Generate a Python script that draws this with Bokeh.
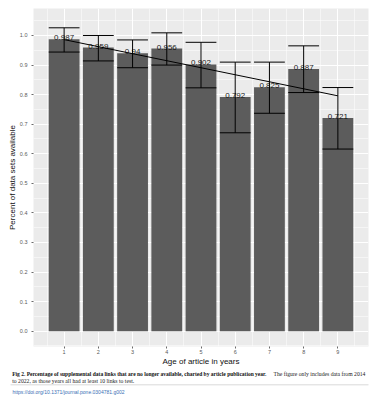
from bokeh.plotting import figure
from bokeh.layouts import column, row
from bokeh.models import FixedTicker, Range1d, ColumnDataSource
from bokeh.embed import file_html
from bokeh.resources import INLINE
from bokeh.core.properties import value

# ---------------- data ----------------
ages = [1, 2, 3, 4, 5, 6, 7, 8, 9]
share_available = [0.987, 0.959, 0.94, 0.956, 0.902, 0.792, 0.825, 0.887, 0.721]
value_labels = ["0.987", "0.959", "0.94", "0.956", "0.902", "0.792", "0.825", "0.887", "0.721"]
ci_lower = [0.944, 0.914, 0.891, 0.900, 0.823, 0.671, 0.737, 0.807, 0.616]
ci_upper = [1.026, 1.000, 0.985, 1.009, 0.977, 0.910, 0.910, 0.965, 0.824]
trend_ages = [1, 9]
trend_values = [0.986, 0.796]
y_ticks = [0.0, 0.1, 0.2, 0.3, 0.4, 0.5, 0.6, 0.7, 0.8, 0.9, 1.0]
y_tick_labels = ["0.0", "0.1", "0.2", "0.3", "0.4", "0.5", "0.6", "0.7", "0.8", "0.9", "1.0"]
x_tick_labels = ["1", "2", "3", "4", "5", "6", "7", "8", "9"]

caption_bold = ("Fig 2. Percentage of supplemental data links that are no longer "
                "available, charted by article publication year.")
caption_rest1 = "The figure only includes data from 2014"
caption_rest2 = "to 2022, as those years all had at least 10 links to test."
doi_link = "https://doi.org/10.1371/journal.pone.0304781.g002"

# ---------------- layout ----------------
W = 382
H_PLOT = 370
H_CAP = 30
FL, FR, FT, FB = 33, 368, 8, 346          # plot frame in canvas pixels
X0, X1 = 0.105, 9.895
Y0, Y1 = -0.0517, 1.0913
BAR_W = 0.9

p = figure(width=W, height=H_PLOT, x_range=Range1d(X0, X1), y_range=Range1d(Y0, Y1),
           output_backend="svg", toolbar_location=None,
           min_border_left=FL, min_border_right=W - FR,
           min_border_top=FT, min_border_bottom=H_PLOT - FB)

p.background_fill_color = "#EBEBEB"
p.border_fill_color = "white"
p.outline_line_color = None

# ticks & grid
minor_x = [a - 0.5 for a in ages] + [ages[-1] + 0.5]
minor_y = [t - 0.05 for t in y_ticks] + [y_ticks[-1] + 0.05]
p.xaxis.ticker = FixedTicker(ticks=ages, minor_ticks=minor_x)
p.yaxis.ticker = FixedTicker(ticks=y_ticks, minor_ticks=minor_y)
p.xaxis.major_label_overrides = {a: s for a, s in zip(ages, x_tick_labels)}
p.yaxis.major_label_overrides = {t: s for t, s in zip(y_ticks, y_tick_labels)}

for g in (p.xgrid, p.ygrid):
    g.grid_line_color = "white"
    g.grid_line_width = 1
    g.minor_grid_line_color = "white"
    g.minor_grid_line_width = 0.5

for ax in (p.xaxis, p.yaxis):
    ax.axis_line_color = None
    ax.major_tick_line_color = "#444444"
    ax.major_tick_line_width = 0.8
    ax.major_tick_out = 2
    ax.major_tick_in = 0
    ax.minor_tick_out = 0
    ax.minor_tick_in = 0
    ax.major_label_text_font = "Liberation Sans"
    ax.major_label_text_font_size = "5.5px"
    ax.major_label_text_color = "#5a5a5a"
    ax.axis_label_text_font = "Liberation Sans"
    ax.axis_label_text_font_size = "8px"
    ax.axis_label_text_font_style = "normal"
    ax.axis_label_text_color = "#111111"

p.xaxis.axis_label = "Age of article in years"
p.yaxis.axis_label = "Percent of data sets available"
p.xaxis.major_label_standoff = 1
p.yaxis.major_label_standoff = 4
p.xaxis.axis_label_standoff = 0
p.yaxis.axis_label_standoff = 0

# ---------------- marks ----------------
src = ColumnDataSource(dict(
    age=ages, share=share_available, label=value_labels,
    lo=ci_lower, hi=ci_upper,
    left=[a - BAR_W / 2 for a in ages], right=[a + BAR_W / 2 for a in ages],
))

p.vbar(x="age", top="share", bottom=0, width=BAR_W, source=src,
       fill_color="#5c5c5c", line_color=None)

p.text(x="age", y="share", text="label", source=src,
       text_font=value("Liberation Sans"), text_font_size="8px",
       text_color="#1a1a1a", text_align="center", text_baseline="alphabetic",
       y_offset=-1.5)

p.segment(x0="age", y0="lo", x1="age", y1="hi", source=src,
          line_color="black", line_width=1)
p.segment(x0="left", y0="hi", x1="right", y1="hi", source=src,
          line_color="black", line_width=1)
p.segment(x0="left", y0="lo", x1="right", y1="lo", source=src,
          line_color="black", line_width=1)

p.line(trend_ages, trend_values, line_color="black", line_width=1)

# ---------------- caption panel ----------------
c = figure(width=W, height=H_CAP, x_range=Range1d(0, W), y_range=Range1d(H_CAP, 0),
           output_backend="svg", toolbar_location=None,
           x_axis_type=None, y_axis_type=None, min_border=0)
c.grid.visible = False
c.outline_line_color = None
c.background_fill_color = "white"
c.border_fill_color = "white"

serif = value("Liberation Serif")
c.text(x=[11.7], y=[3.2], text=[caption_bold], text_font=serif,
       text_font_size="5.5px", text_font_style="bold", text_color="#111111",
       text_baseline="middle", text_align="left")
c.text(x=[273], y=[3.2], text=[caption_rest1], text_font=serif,
       text_font_size="5.7px", text_color="#222222",
       text_baseline="middle", text_align="left")
c.text(x=[11.7], y=[10.2], text=[caption_rest2], text_font=serif,
       text_font_size="5.7px", text_color="#222222",
       text_baseline="middle", text_align="left")
c.segment(x0=[10], y0=[14.3], x1=[368], y1=[14.3], line_color="#cfcfcf", line_width=0.8)
c.text(x=[12], y=[21], text=[doi_link], text_font=value("Liberation Sans"),
       text_font_size="5px", text_color="#3a6fb5",
       text_baseline="middle", text_align="left")

layout = column(p, row(c, spacing=0), spacing=0)
open("out.html", "w").write(file_html(layout, INLINE))
